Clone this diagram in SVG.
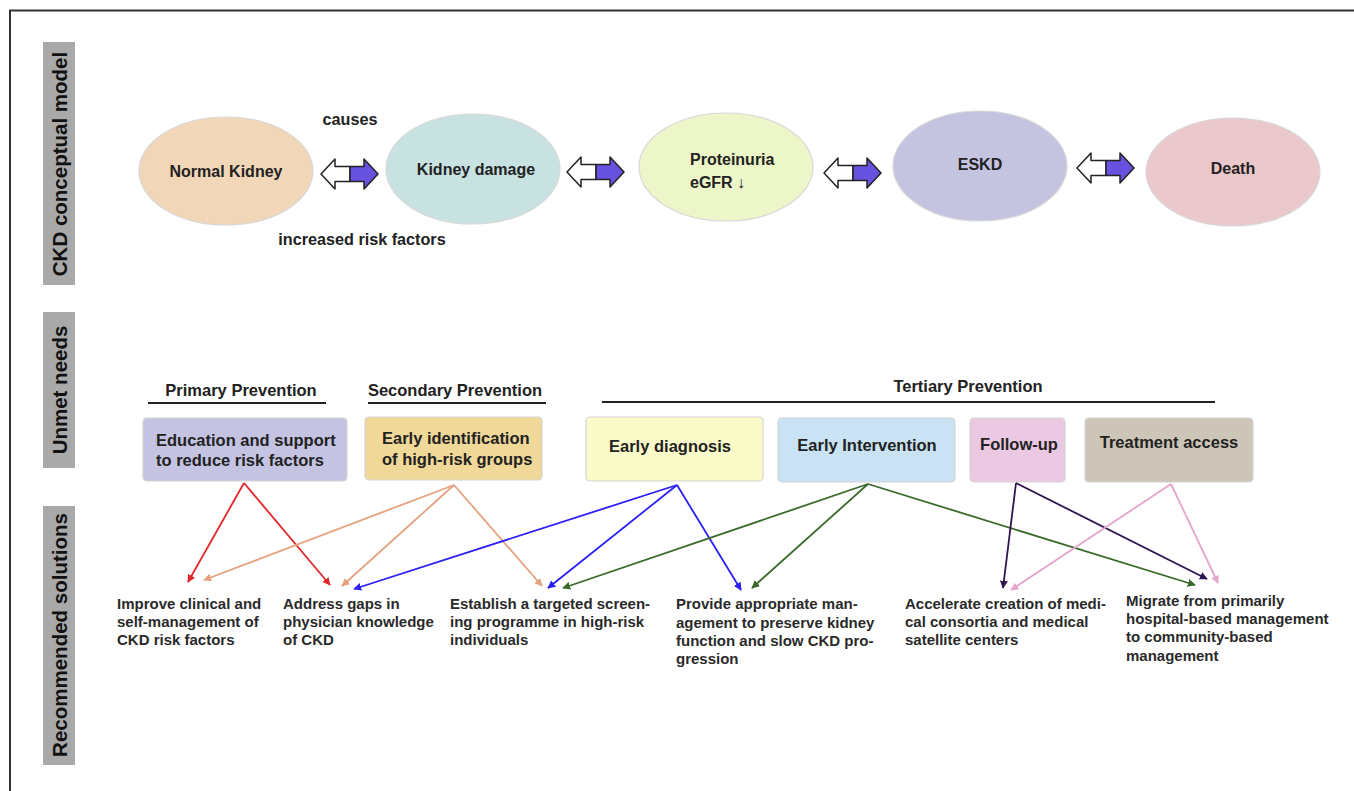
<svg xmlns="http://www.w3.org/2000/svg" width="1354" height="791" viewBox="0 0 1354 791">
<style>
.side{fill:#a9a9a9}
.sidet{font-family:"Liberation Sans",Arial,sans-serif;font-weight:bold;font-size:20.5px;fill:#111;text-anchor:middle;dominant-baseline:central}
.ell{stroke:#d8d8d8;stroke-width:1.2}
.et{font-family:"Liberation Sans",Arial,sans-serif;font-weight:bold;font-size:16px;fill:#222;text-anchor:middle;dominant-baseline:central}
.lbl{font-family:"Liberation Sans",Arial,sans-serif;font-weight:bold;font-size:16.2px;fill:#222;text-anchor:middle;dominant-baseline:central}
.hdr{font-family:"Liberation Sans",Arial,sans-serif;font-weight:bold;font-size:16.5px;fill:#222;text-anchor:middle;dominant-baseline:central}
.box{stroke:#d4d4d4;stroke-width:1.2}
.bt{font-family:"Liberation Sans",Arial,sans-serif;font-weight:bold;font-size:16.5px;fill:#222;dominant-baseline:central}
.st{font-family:"Liberation Sans",Arial,sans-serif;font-weight:bold;font-size:15px;fill:#2a2a2a;dominant-baseline:central}
.ul{stroke:#222;stroke-width:2.2}
.c{fill:none;stroke-width:1.8}
.aw{fill:#fff;stroke:#222;stroke-width:1.5;stroke-linejoin:round}
.ap{fill:#6652df;stroke:#222;stroke-width:1.5;stroke-linejoin:round}
</style>
<defs>
<marker id="mr" viewBox="0 0 10 10" refX="9" refY="5" markerWidth="8" markerHeight="8" markerUnits="userSpaceOnUse" orient="auto"><path d="M0,0 L10,5 L0,10 z" fill="#e3262a"/></marker>
<marker id="mo" viewBox="0 0 10 10" refX="9" refY="5" markerWidth="8" markerHeight="8" markerUnits="userSpaceOnUse" orient="auto"><path d="M0,0 L10,5 L0,10 z" fill="#e6a27f"/></marker>
<marker id="mb" viewBox="0 0 10 10" refX="9" refY="5" markerWidth="8" markerHeight="8" markerUnits="userSpaceOnUse" orient="auto"><path d="M0,0 L10,5 L0,10 z" fill="#2a1ff5"/></marker>
<marker id="mg" viewBox="0 0 10 10" refX="9" refY="5" markerWidth="8" markerHeight="8" markerUnits="userSpaceOnUse" orient="auto"><path d="M0,0 L10,5 L0,10 z" fill="#3a6a2a"/></marker>
<marker id="md" viewBox="0 0 10 10" refX="9" refY="5" markerWidth="8" markerHeight="8" markerUnits="userSpaceOnUse" orient="auto"><path d="M0,0 L10,5 L0,10 z" fill="#2e1450"/></marker>
<marker id="mp" viewBox="0 0 10 10" refX="9" refY="5" markerWidth="8" markerHeight="8" markerUnits="userSpaceOnUse" orient="auto"><path d="M0,0 L10,5 L0,10 z" fill="#e6a4cc"/></marker>
<g id="dbl">
<path class="aw" d="M0,0 L14,-15 L14,-7.5 L29,-7.5 L29,7.5 L14,7.5 L14,15 Z"/>
<path class="ap" d="M29,-7.5 L43,-7.5 L43,-15 L57,0 L43,15 L43,7.5 L29,7.5 Z"/>
</g>
</defs>
<rect width="1354" height="791" fill="#fff"/>
<path d="M10,791 L10,10.5 L1354,10.5" fill="none" stroke="#333" stroke-width="2"/>

<g id="side-labels">
<g id="side-ckd"><rect class="side" x="43" y="42" width="32" height="243"/><text class="sidet" transform="translate(59,164) rotate(-90)">CKD conceptual model</text></g>
<g id="side-unmet"><rect class="side" x="43" y="312" width="32" height="156"/><text class="sidet" transform="translate(59,390) rotate(-90)">Unmet needs</text></g>
<g id="side-rec"><rect class="side" x="43" y="506" width="32" height="259"/><text class="sidet" transform="translate(59,635) rotate(-90)">Recommended solutions</text></g>
</g>

<g id="conceptual-model">
<g id="n-normal"><ellipse class="ell" cx="226" cy="171" rx="87" ry="54" fill="#f1d6b8"/><text class="et" x="226" y="171">Normal Kidney</text></g>
<g id="n-damage"><ellipse class="ell" cx="473" cy="169" rx="87" ry="55" fill="#c8e2e1"/><text class="et" x="476" y="169">Kidney damage</text></g>
<g id="n-prot"><ellipse class="ell" cx="726" cy="167" rx="87" ry="54" fill="#edf6c9"/><text class="et" x="690" y="159" style="text-anchor:start">Proteinuria</text><text class="et" x="690" y="182" style="text-anchor:start">eGFR ↓</text></g>
<g id="n-eskd"><ellipse class="ell" cx="980" cy="166" rx="87" ry="55" fill="#c4c4e1"/><text class="et" x="980" y="164">ESKD</text></g>
<g id="n-death"><ellipse class="ell" cx="1233" cy="172" rx="87" ry="54" fill="#ebc8cb"/><text class="et" x="1233" y="168">Death</text></g>
<text class="lbl" x="350" y="119">causes</text>
<text class="lbl" x="362" y="239">increased risk factors</text>
<use href="#dbl" x="321" y="174"/>
<use href="#dbl" x="567" y="172"/>
<use href="#dbl" x="824" y="173"/>
<use href="#dbl" x="1077" y="168"/>
</g>

<g id="headers">
<text class="hdr" x="241" y="390">Primary Prevention</text>
<line class="ul" x1="148" y1="403" x2="326" y2="403"/>
<text class="hdr" x="455" y="390">Secondary Prevention</text>
<line class="ul" x1="368" y1="403" x2="546" y2="403"/>
<text class="hdr" x="968" y="386">Tertiary Prevention</text>
<line class="ul" x1="602" y1="402" x2="1215" y2="402"/>
</g>

<g id="b-education"><rect class="box" x="143" y="418" width="204" height="63" rx="4" fill="#c4c4e2"/><text class="bt" x="156" y="440">Education and support</text><text class="bt" x="156" y="460">to reduce risk factors</text></g>
<g id="b-early-id"><rect class="box" x="365" y="417" width="177" height="63" rx="4" fill="#f0d898"/><text class="bt" x="382" y="438">Early identification</text><text class="bt" x="382" y="459">of high-risk groups</text></g>
<g id="b-early-diag"><rect class="box" x="586" y="417" width="177" height="64" rx="4" fill="#fbfbc9"/><text class="bt" x="670" y="446" style="text-anchor:middle">Early diagnosis</text></g>
<g id="b-early-int"><rect class="box" x="778" y="418" width="177" height="64" rx="4" fill="#c9e3f5"/><text class="bt" x="867" y="445" style="text-anchor:middle">Early Intervention</text></g>
<g id="b-follow"><rect class="box" x="970" y="418" width="95" height="64" rx="4" fill="#ecc9e2"/><text class="bt" x="1019" y="444" style="text-anchor:middle">Follow-up</text></g>
<g id="b-treat"><rect class="box" x="1085" y="418" width="168" height="64" rx="4" fill="#cdc6b8"/><text class="bt" x="1169" y="442" style="text-anchor:middle">Treatment access</text></g>

<g id="connectors">
<line class="c" stroke="#e3262a" x1="244" y1="483" x2="188" y2="582" marker-end="url(#mr)"/>
<line class="c" stroke="#e3262a" x1="244" y1="483" x2="330" y2="585" marker-end="url(#mr)"/>
<line class="c" stroke="#e6a27f" x1="454" y1="485" x2="204" y2="580" marker-end="url(#mo)"/>
<line class="c" stroke="#e6a27f" x1="454" y1="485" x2="342" y2="586" marker-end="url(#mo)"/>
<line class="c" stroke="#e6a27f" x1="454" y1="485" x2="542" y2="586" marker-end="url(#mo)"/>
<line class="c" stroke="#2a1ff5" x1="677" y1="485" x2="354" y2="589" marker-end="url(#mb)"/>
<line class="c" stroke="#2a1ff5" x1="677" y1="485" x2="548" y2="588" marker-end="url(#mb)"/>
<line class="c" stroke="#2a1ff5" x1="677" y1="485" x2="741" y2="590" marker-end="url(#mb)"/>
<line class="c" stroke="#3a6a2a" x1="868" y1="484" x2="563" y2="588" marker-end="url(#mg)"/>
<line class="c" stroke="#3a6a2a" x1="868" y1="484" x2="752" y2="588" marker-end="url(#mg)"/>
<line class="c" stroke="#3a6a2a" x1="868" y1="484" x2="1195" y2="585" marker-end="url(#mg)"/>
<line class="c" stroke="#2e1450" x1="1016" y1="483" x2="1003" y2="588" marker-end="url(#md)"/>
<line class="c" stroke="#2e1450" x1="1016" y1="483" x2="1207" y2="579" marker-end="url(#md)"/>
<line class="c" stroke="#e6a4cc" x1="1171" y1="484" x2="1011" y2="590" marker-end="url(#mp)"/>
<line class="c" stroke="#e6a4cc" x1="1171" y1="484" x2="1218" y2="583" marker-end="url(#mp)"/>
</g>

<g id="s-improve"><text class="st" x="117" y="603">Improve clinical and</text><text class="st" x="117" y="621">self-management of</text><text class="st" x="117" y="639">CKD risk factors</text></g>
<g id="s-address"><text class="st" x="283" y="603">Address gaps in</text><text class="st" x="283" y="621">physician knowledge</text><text class="st" x="283" y="639">of CKD</text></g>
<g id="s-establish"><text class="st" x="450" y="603">Establish a targeted screen-</text><text class="st" x="450" y="621">ing programme in high-risk</text><text class="st" x="450" y="639">individuals</text></g>
<g id="s-provide"><text class="st" x="676" y="603">Provide appropriate man-</text><text class="st" x="676" y="622">agement to preserve kidney</text><text class="st" x="676" y="640">function and slow CKD pro-</text><text class="st" x="676" y="658">gression</text></g>
<g id="s-accelerate"><text class="st" x="905" y="603">Accelerate creation of medi-</text><text class="st" x="905" y="621">cal consortia and medical</text><text class="st" x="905" y="639">satellite centers</text></g>
<g id="s-migrate"><text class="st" x="1126" y="600">Migrate from primarily</text><text class="st" x="1126" y="618">hospital-based management</text><text class="st" x="1126" y="636">to community-based</text><text class="st" x="1126" y="655">management</text></g>
</svg>
